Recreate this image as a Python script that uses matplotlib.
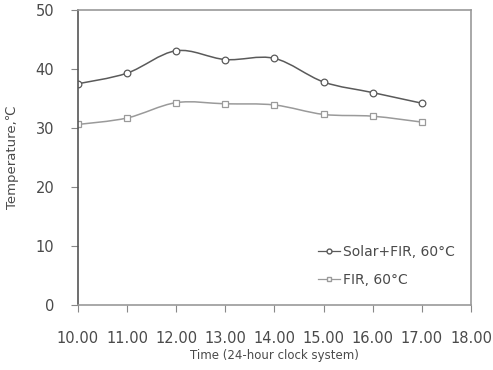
import matplotlib
matplotlib.use("Agg")
import matplotlib.pyplot as plt
import numpy as np
from matplotlib.path import Path
from matplotlib.patches import PathPatch

# data
hours = [10, 11, 12, 13, 14, 15, 16, 17]
solar_fir = [37.5, 39.3, 43.1, 41.6, 41.8, 37.8, 36.0, 34.2]
fir = [30.6, 31.7, 34.3, 34.1, 33.9, 32.3, 32.0, 31.0]
xtick_labels = ["10.00", "11.00", "12.00", "13.00", "14.00", "15.00", "16.00", "17.00", "18.00"]

plt.rcParams['font.family'] = ['DejaVu Sans']
txt = "#4a4a4a"


# smooth curve through the points (Catmull-Rom -> cubic bezier), like Excel smoothed lines
def smooth_path(x, y, t=1/6):
    x = np.asarray(x, float)
    y = np.asarray(y, float)
    verts = [(x[0], y[0])]
    codes = [Path.MOVETO]
    n = len(x)
    for i in range(n - 1):
        x0, y0 = (x[i - 1], y[i - 1]) if i > 0 else (x[i], y[i])
        x3, y3 = (x[i + 2], y[i + 2]) if i + 2 < n else (x[i + 1], y[i + 1])
        c1 = (x[i] + (x[i + 1] - x0) * t, y[i] + (y[i + 1] - y0) * t)
        c2 = (x[i + 1] - (x3 - x[i]) * t, y[i + 1] - (y3 - y[i]) * t)
        verts += [c1, c2, (x[i + 1], y[i + 1])]
        codes += [Path.CURVE4] * 3
    return Path(verts, codes)


fig = plt.figure(figsize=(4.93, 3.70), dpi=100)
ax = fig.add_axes([78 / 493, 1 - 305 / 370, (471 - 78) / 493, (305 - 10) / 370])

c1 = "#5a5a5a"
c2 = "#9a9a9a"
ax.add_patch(PathPatch(smooth_path(hours, solar_fir), fill=False, edgecolor=c1, lw=1.1))
ax.add_patch(PathPatch(smooth_path(hours, fir), fill=False, edgecolor=c2, lw=1.1))
ax.plot(hours, solar_fir, ls="none", marker="o", ms=4.8, mfc="white", mec=c1, mew=0.9)
ax.plot(hours, fir, ls="none", marker="s", ms=4.8, mfc="white", mec=c2, mew=0.9)

# legend handles
ax.plot([], [], color=c1, marker="o", ms=3.5, mfc="white", mec=c1, lw=0.9, label="Solar+FIR, 60°C")
ax.plot([], [], color=c2, marker="s", ms=3.5, mfc="white", mec=c2, lw=0.9, label="FIR, 60°C")
handles, labels = ax.get_legend_handles_labels()
leg = ax.legend(handles[-2:], labels[-2:], loc="lower right", frameon=False, fontsize=10,
                handlelength=1.6, handletextpad=0.2, labelspacing=1.0,
                bbox_to_anchor=(0.99, 0.02), labelcolor=txt)

ax.set_xlim(10, 18)
ax.set_ylim(0, 50)
ax.set_xticks(range(10, 19))
ax.set_xticklabels(xtick_labels)
ax.set_yticks(range(0, 51, 10))
ax.tick_params(axis="x", direction="out", length=5, pad=14, labelsize=10.5, colors="#888888", labelcolor=txt)
ax.tick_params(axis="y", direction="out", length=5, pad=12, labelsize=10.5, colors="#888888", labelcolor=txt)

ax.spines["left"].set_color("#555555")
ax.spines["left"].set_linewidth(1.2)
for s in ["top", "right", "bottom"]:
    ax.spines[s].set_color("#999999")
    ax.spines[s].set_linewidth(1.2)

ax.set_ylabel("Temperature,℃", fontsize=9.5, color=txt, labelpad=12)
ax.set_xlabel("Time (24-hour clock system)", fontsize=8.5, color=txt, labelpad=2)

plt.savefig("out.png", dpi=100)
